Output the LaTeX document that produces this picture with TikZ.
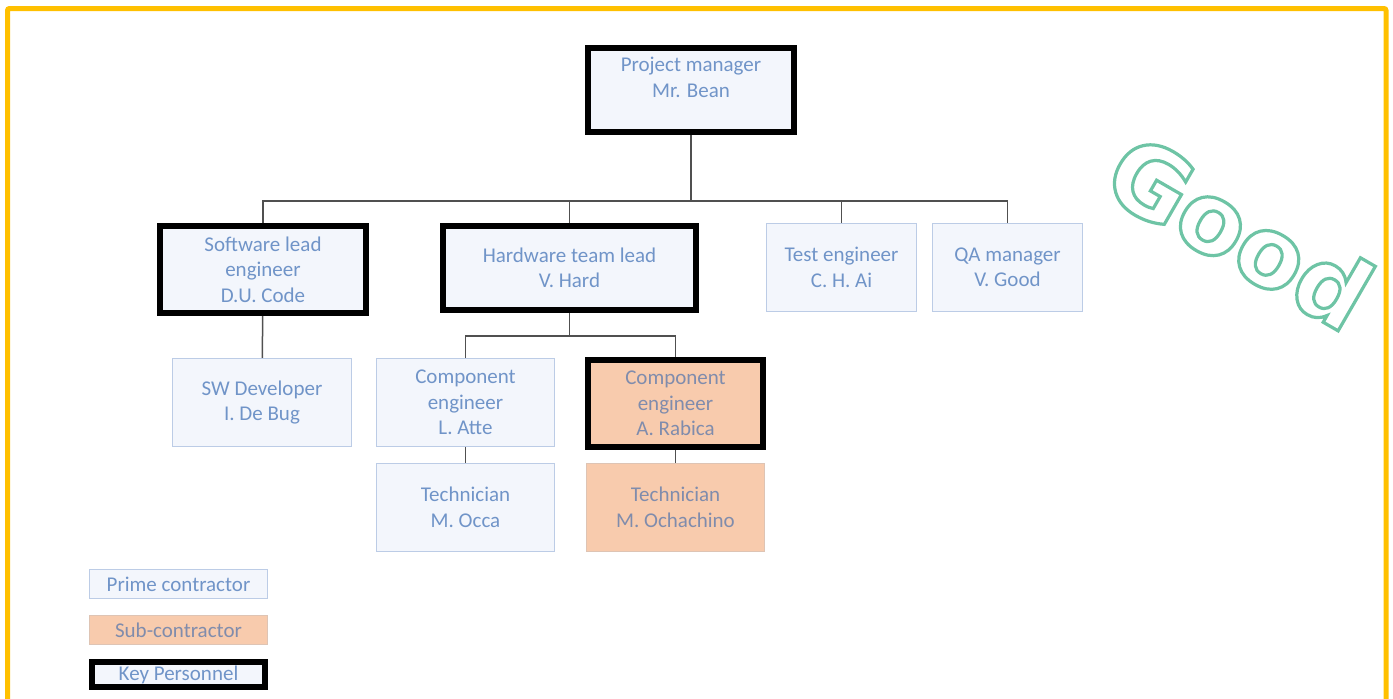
\documentclass[tikz,border=0pt]{standalone}
\usepackage{fontspec}
\setmainfont{Carlito}
\newfontfamily\goodfont{DejaVu Sans}
\newcommand\outlinetext[1]{\special{pdf:literal direct 1 Tr 3.2 w}#1\special{pdf:literal direct 0 Tr}}

\definecolor{frameyellow}{RGB}{255,192,0}
\definecolor{primefill}{RGB}{243,246,252}
\definecolor{primeline}{RGB}{188,204,230}
\definecolor{primetext}{RGB}{112,148,200}
\definecolor{subfill}{RGB}{248,203,173}
\definecolor{subline}{RGB}{222,196,180}
\definecolor{subtext}{RGB}{128,140,172}
\definecolor{linkgray}{RGB}{80,80,80}
\definecolor{goodteal}{RGB}{110,196,165}

\begin{document}
\begin{tikzpicture}[x=1pt, y=-1pt,
box/.style={draw=primeline, line width=1.5pt, fill=primefill, text=primetext,
  align=center, inner sep=0pt, font=\fontsize{21}{25.5}\selectfont},
key/.style={draw=black, line width=6pt},
sub/.style={fill=subfill, draw=subline, text=subtext},
link/.style={draw=linkgray, line width=1.5pt},
frame/.style={draw=frameyellow, line width=5pt, rounded corners=2pt}]

\useasboundingbox (0,0) rectangle (1393,699);

% FRAME
\draw[frame] (7.5,720) |- (1386,8.5) -- (1386,720);

% top levels
\node[box, key, minimum width=206pt, minimum height=84pt] (pm) at (691,90)
  {Project manager\\Mr. Bean\\~};
\node[box, key, minimum width=206pt, minimum height=87pt] (swlead) at (263,269.5)
  {Software lead\\engineer\\D.U. Code};
\node[box, key, minimum width=253pt, minimum height=84pt] (hwlead) at (569.5,268)
  {Hardware team lead\\V. Hard};
\node[box, minimum width=150pt, minimum height=88pt] (test) at (841.5,267.5)
  {Test engineer\\C. H. Ai};
\node[box, minimum width=150pt, minimum height=88pt] (qa) at (1007.5,267.5)
  {QA manager\\V. Good};

% lower levels
\node[box, minimum width=179pt, minimum height=88pt] (swdev) at (262,402.5)
  {SW Developer\\I. De Bug};
\node[box, minimum width=178pt, minimum height=88pt] (atte) at (465.5,402.5)
  {Component\\engineer\\L. Atte};
\node[box, sub, key, minimum width=175pt, minimum height=87pt] (rabica) at (675.5,403.5)
  {Component\\engineer\\A. Rabica};
\node[box, minimum width=178pt, minimum height=88pt] (occa) at (465.5,507.5)
  {Technician\\M. Occa};
\node[box, sub, minimum width=178pt, minimum height=88pt] (ochachino) at (675.5,507.5)
  {Technician\\M. Ochachino};

% connectors
\coordinate (bus) at (691,201);
\coordinate (hwbus) at (569.5,336);
\draw[link] (pm) -- (bus);
\draw[link] (swlead.north) |- (bus) -| (qa.north);
\foreach \n in {hwlead,test}
  \draw[link] (\n.north) -- (\n.north |- bus);
\draw[link] (swlead) -- (swdev);
\draw[link] (hwlead) -- (hwbus);
\draw[link] (atte.north) |- (hwbus) -| (rabica.north);
\draw[link] (atte) -- (occa);
\draw[link] (rabica) -- (ochachino);

% legend
\node[box, minimum width=178pt, minimum height=29pt] (prime) at (178.5,584) {Prime contractor};
\node[box, sub, minimum width=178pt, minimum height=29pt] (subc) at (178.5,630) {Sub-contractor};
\node[box, key, minimum width=173pt, minimum height=25pt] (keyp) at (178.5,674.5) {Key Personnel};

% stamp
\node[rotate=-30, text=goodteal, inner sep=0pt,
  font=\goodfont\bfseries\fontsize{98}{98}\selectfont] (good) at (1240,232)
  {\outlinetext{Good}};

\end{tikzpicture}
\end{document}
